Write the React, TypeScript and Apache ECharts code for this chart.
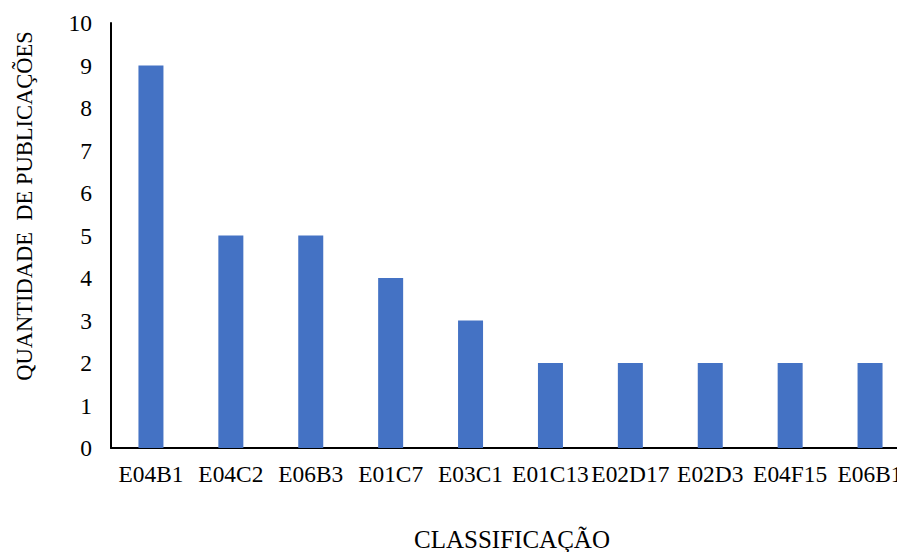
import React, { useEffect, useRef } from "react";
import * as echarts from "echarts";

const categories = ["E04B1", "E04C2", "E06B3", "E01C7", "E03C1", "E01C13", "E02D17", "E02D3", "E04F15", "E06B1"];
const publications = [9, 5, 5, 4, 3, 2, 2, 2, 2, 2];
const yTicks = { min: 0, max: 10, interval: 1 };
const xTitle = "CLASSIFICAÇÃO";
const yTitle = "QUANTIDADE  DE PUBLICAÇÕES";

const FONT = "'Liberation Serif', 'Times New Roman', serif";

export default function App() {
  const ref = useRef<HTMLDivElement>(null);
  useEffect(() => {
    document.body.style.margin = "0";
    const chart = echarts.init(ref.current!, null, { renderer: "svg" });
    chart.setOption({
      animation: false,
      backgroundColor: "#ffffff",
      grid: { left: 111, top: 23, width: 799, height: 425, containLabel: false, outerBoundsMode: "none" },
      xAxis: {
        type: "category",
        data: categories,
        axisLine: { show: true, lineStyle: { color: "#000000", width: 2 } },
        axisTick: { show: false },
        axisLabel: { interval: 0, color: "#000000", fontFamily: FONT, fontSize: 23.4, margin: 14 },
        splitLine: { show: false },
      },
      yAxis: {
        type: "value",
        min: yTicks.min,
        max: yTicks.max,
        interval: yTicks.interval,
        axisLine: { show: true, lineStyle: { color: "#000000", width: 2 } },
        axisTick: { show: false },
        axisLabel: { color: "#000000", fontFamily: FONT, fontSize: 23.5, margin: 19 },
        splitLine: { show: false },
      },
      graphic: [
        {
          type: "text",
          x: 24,
          y: 206,
          rotation: Math.PI / 2,
          style: {
            text: yTitle,
            fontFamily: FONT,
            fontSize: 22.5,
            fill: "#000000",
            align: "center",
            verticalAlign: "middle",
          },
        },
        {
          type: "text",
          x: 512,
          y: 539,
          style: {
            text: xTitle,
            fontFamily: FONT,
            fontSize: 25,
            fill: "#000000",
            align: "center",
            verticalAlign: "middle",
          },
        },
      ],
      series: [
        {
          type: "bar",
          data: publications,
          barWidth: 25,
          itemStyle: { color: "#4472C4" },
        },
      ],
    });
    return () => chart.dispose();
  }, []);
  return <div ref={ref} style={{ width: 897, height: 552 }} />;
}
